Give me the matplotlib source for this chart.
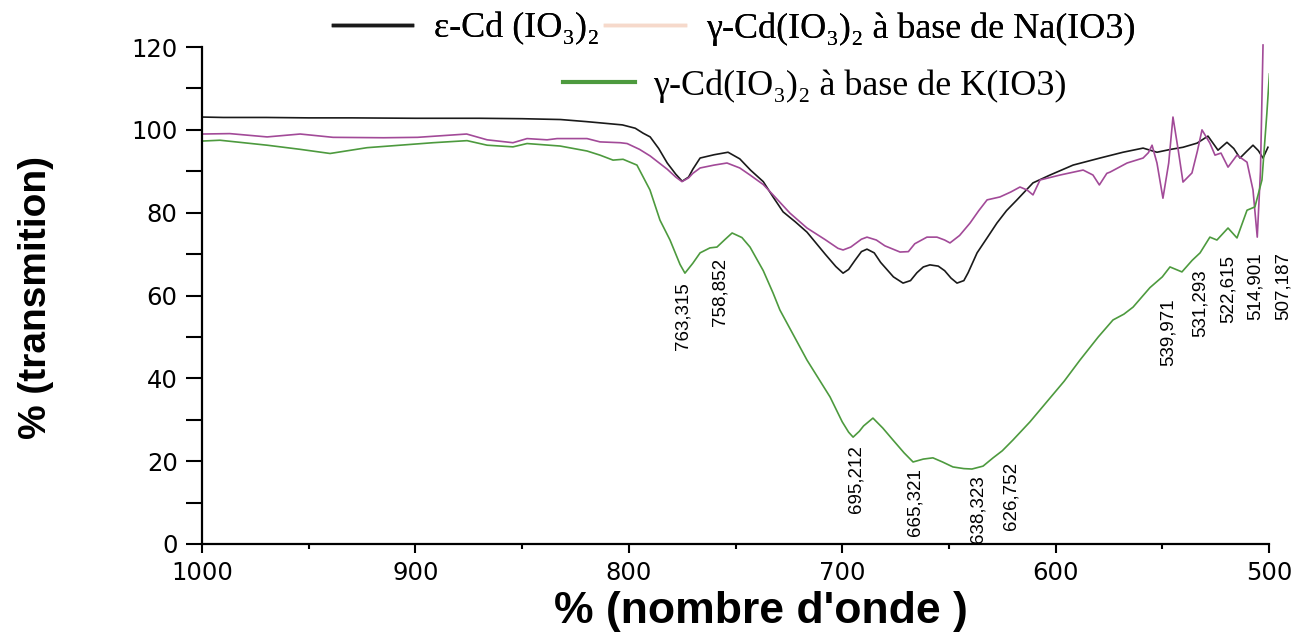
import matplotlib
matplotlib.use("Agg")
import matplotlib.pyplot as plt
from matplotlib.lines import Line2D
from matplotlib.ticker import MultipleLocator

# --- data ------------------------------------------------------------------
eps_x = [1000, 990, 970, 950, 930, 900, 870, 850, 832, 820, 813.5, 803, 797,
         793.3, 790, 786, 782, 778, 775, 772, 770, 766.6, 760, 753.5, 748, 743,
         737, 732.4, 727.7, 722, 716.5, 708, 703, 699.6, 697, 694, 691, 688.4,
         685, 682, 676, 671.5, 668, 665, 662, 658.9, 655, 652, 649, 646.2, 643,
         641, 636.8, 632, 627.5, 623, 618.1, 610.6, 602.6, 591.8, 579.2, 568.4,
         559, 552.5, 546, 540.3, 533.7, 528.6, 523.9, 519.7, 516.5, 513.6,
         510.5, 507.5, 505, 502.8, 500.5]
eps_y = [103.1, 103.0, 103.0, 102.9, 102.9, 102.8, 102.8, 102.7, 102.5, 102.0,
         101.7, 101.2, 100.4, 99.2, 98.3, 95.5, 92.0, 89.3, 87.6, 88.6, 90.5,
         93.2, 94.0, 94.6, 93.0, 90.3, 87.5, 83.8, 80.2, 77.8, 75.3, 70.0,
         67.0, 65.4, 66.3, 68.5, 70.6, 71.2, 70.3, 68.0, 64.5, 63.0, 63.6, 65.5,
         66.9, 67.4, 67.1, 66.0, 64.2, 63.0, 63.6, 65.5, 70.3, 74.0, 77.5, 80.5,
         83.1, 87.2, 89.1, 91.5, 93.2, 94.6, 95.6, 94.6, 95.3, 95.8, 96.8, 98.5,
         95.1, 97.0, 95.5, 93.2, 94.8, 96.3, 95.0, 93.2, 95.8]

na_x = [1000, 987, 969.5, 954, 938.6, 915, 899, 876, 866.4, 854.3, 847.7, 838.3,
        833.6, 819.6, 813.5, 804, 800.8, 795, 790, 782, 778, 775.1, 772, 770,
        766.6, 760, 754, 748, 743.2, 737, 732.4, 724.5, 716.5, 708, 702, 699.6,
        696, 691, 688.4, 684, 680, 672.9, 669, 666, 660.3, 655.6, 652, 649.5,
        645, 640.1, 636, 632.1, 626.1, 621, 616.7, 613.4, 610.6, 607.3, 597.9,
        587.1, 582.5, 579.5, 576, 574.5, 566.5, 559, 556.5, 554.8, 552.5, 549.7,
        547, 545, 542.5, 540.3, 536.1, 533.5, 531.4, 527.7, 525.3, 522.5, 519.2,
        515, 510.3, 507.5, 505.5, 504, 502.8]
na_y = [99.0, 99.1, 98.3, 99.0, 98.2, 98.1, 98.2, 99.0, 97.6, 96.9, 97.9, 97.6,
        97.9, 97.9, 97.1, 96.9, 96.7, 95.3, 93.7, 90.5, 88.6, 87.5, 88.4, 89.5,
        90.8, 91.5, 92.0, 90.8, 89.1, 86.8, 84.3, 79.9, 76.3, 73.5, 71.4, 71.0,
        71.7, 73.6, 74.1, 73.4, 72.0, 70.5, 70.6, 72.5, 74.1, 74.1, 73.4, 72.7,
        74.5, 77.5, 80.5, 83.1, 83.8, 85.0, 86.2, 85.5, 84.3, 87.9, 89.1, 90.3,
        89.1, 86.7, 89.5, 89.8, 92.0, 93.2, 94.5, 96.3, 92.0, 83.5, 92.0, 103.1,
        95.0, 87.4, 89.6, 95.0, 100.0, 96.8, 93.9, 94.4, 91.0, 93.9, 92.2, 85.5,
        74.1, 90.0, 120.5]

k_x = [1000, 991.6, 969.5, 954, 940, 922.7, 907.2, 891.8, 875.8, 866.4, 854.3,
       847.7, 832.2, 819.6, 813.5, 807.4, 802.7, 796.2, 790.1, 785.4, 780.7,
       776, 773.7, 770, 766.6, 762, 758.7, 755, 751.6, 747, 743.2, 737, 732.4,
       729.2, 716.5, 705.7, 700, 697, 694.9, 692, 690, 685.6, 681, 676.2, 671,
       666.8, 662, 657.5, 653, 648.1, 643, 639.2, 634, 629.3, 625, 620, 612,
       604, 596, 588.6, 580, 573.1, 568, 563.7, 555.8, 550, 546.4, 540.8, 536,
       532.3, 527.7, 524.4, 519.2, 515, 510.3, 506.6, 503.3, 501, 499.8]
k_y = [97.3, 97.5, 96.3, 95.3, 94.3, 95.7, 96.3, 96.9, 97.4, 96.3, 95.9, 96.7,
       96.1, 94.9, 93.9, 92.7, 92.9, 91.5, 85.5, 78.2, 73.4, 67.5, 65.4, 67.8,
       70.3, 71.5, 71.7, 73.5, 75.1, 74.0, 71.7, 66.0, 60.6, 56.5, 44.4, 35.5,
       29.5, 27.0, 25.8, 27.2, 28.5, 30.4, 28.0, 25.1, 22.0, 19.8, 20.5, 20.8,
       19.8, 18.6, 18.2, 18.1, 18.8, 20.8, 22.5, 25.1, 29.5, 34.4, 39.3, 44.4,
       50.0, 54.1, 55.5, 57.2, 61.9, 64.5, 66.9, 65.7, 68.5, 70.3, 74.1, 73.4,
       76.3, 73.9, 80.6, 81.4, 87.9, 104.0, 113.5]

peak_txt = ["763,315", "758,852", "695,212", "665,321", "638,323", "626,752",
            "539,971", "531,293", "522,615", "514,901", "507,187"]
peak_x = [774.6, 757.3, 693.5, 665.9, 636.4, 620.9, 547.4, 532.3, 519.2, 506.6, 493.4]
peak_y = [63.3, 69.0, 23.9, 18.3, 16.7, 19.8, 59.4, 66.2, 69.8, 70.5, 70.5]

lab_eps = "ε-Cd (IO₃)₂"
lab_na = "γ-Cd(IO₃)₂ à base de Na(IO3)"
lab_k = "γ-Cd(IO₃)₂ à base de K(IO3)"

c_eps, c_na, c_na_leg, c_k = "#1a1a1a", "#a24a98", "#f6d9cb", "#4d9a3e"

# --- figure ----------------------------------------------------------------
W, H = 1301, 636
fig = plt.figure(figsize=(W / 100, H / 100), dpi=100)
ax = fig.add_axes([0.1553, 0.1447, 0.8201, 0.7813])

ax.plot(eps_x, eps_y, color=c_eps, lw=1.2)
ax.plot(na_x, na_y, color=c_na, lw=1.2, clip_on=False)
ax.plot(k_x, k_y, color=c_k, lw=1.2)

narrow = ["Liberation Sans Narrow", "Liberation Sans", "DejaVu Sans"]
for t, x, y in zip(peak_txt, peak_x, peak_y):
    ax.text(x, y, t, rotation=90, ha="center", va="top", fontsize=13.5,
            family=narrow, clip_on=False)

ax.set_xlim(1000, 500)
ax.set_ylim(0, 120)
ax.xaxis.set_major_locator(MultipleLocator(100))
ax.xaxis.set_minor_locator(MultipleLocator(50))
ax.yaxis.set_major_locator(MultipleLocator(20))
ax.yaxis.set_minor_locator(MultipleLocator(10))

for s in ("top", "right"):
    ax.spines[s].set_visible(False)
for s in ("left", "bottom"):
    ax.spines[s].set_linewidth(1.6)

ax.tick_params(axis="x", which="major", length=6.5, width=1.5, pad=6,
               labelsize=17.5)
ax.tick_params(axis="x", which="minor", length=3.6, width=1.5)
ax.tick_params(axis="y", which="both", length=11.5, width=1.5, pad=6,
               labelsize=17.5)
for lbl in ax.get_xticklabels() + ax.get_yticklabels():
    lbl.set_family("DejaVu Sans")

# axis titles placed as figure text
fig.text(761 / W, 1 - 612 / H, "% (nombre d'onde )", fontsize=32,
         fontweight="bold", family="Liberation Sans", ha="center", va="center")
fig.text(36 / W, 1 - 297 / H, "% (transmition)", fontsize=28, rotation=90,
         fontweight="bold", family="Liberation Sans", ha="center", va="center")

# --- legend (two rows, as in the reference) ---------------------------------
serif = ["Liberation Serif", "DejaVu Serif"]
h1 = [Line2D([], [], color=c_eps, lw=2.5), Line2D([], [], color=c_na_leg, lw=2.5)]
leg1 = fig.legend(h1, [lab_eps, lab_na], loc="center left",
                  bbox_to_anchor=(333 / W, 1 - 29 / H), ncol=2,
                  frameon=False, borderpad=0, borderaxespad=0,
                  handlelength=2.2, handletextpad=0.6, columnspacing=0.15,
                  prop={"family": serif, "size": 26})
h2 = [Line2D([], [], color=c_k, lw=3)]
leg2 = fig.legend(h2, [lab_k], loc="center left",
                  bbox_to_anchor=(563 / W, 1 - 86 / H),
                  frameon=False, borderpad=0, borderaxespad=0,
                  handlelength=2.0, handletextpad=0.5,
                  prop={"family": serif, "size": 26})
fig.add_artist(leg1)

fig.savefig("out.png", dpi=100)
